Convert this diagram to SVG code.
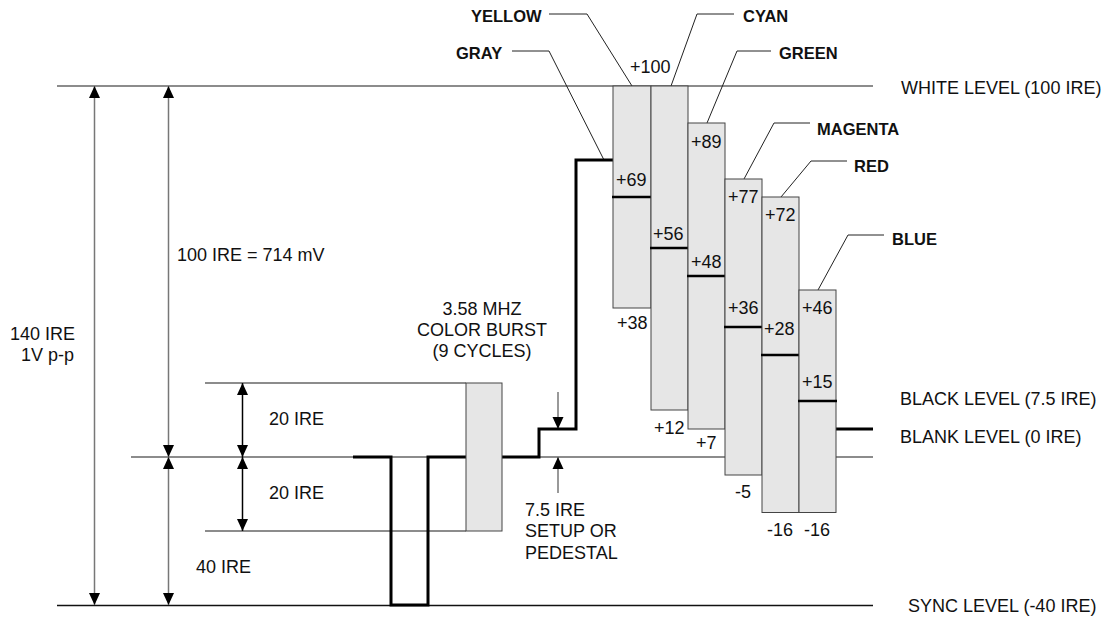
<svg xmlns="http://www.w3.org/2000/svg" width="1114" height="618" viewBox="0 0 1114 618">
<style>
text{font-family:"Liberation Sans",Arial,sans-serif;font-size:18px;fill:#111}
.b{font-weight:bold;font-size:16.5px}
.lvl{stroke:#666;stroke-width:1.3;fill:none}
.sig{stroke:#000;stroke-width:3;fill:none}
.bar{fill:#e6e6e6;stroke:#444;stroke-width:1}
.tick{stroke:#000;stroke-width:2.5}
.ldr{stroke:#222;stroke-width:1;fill:none}
.ga{stroke:#777;stroke-width:1.5;fill:none}
.ka{stroke:#000;stroke-width:1.5;fill:none}
</style>
<defs>
<marker id="ah" viewBox="0 0 12 12" refX="12" refY="6" markerWidth="12" markerHeight="12" markerUnits="userSpaceOnUse" orient="auto-start-reverse">
<path d="M0,0.5 L12,6 L0,11.5 z" fill="#000"/>
</marker>
</defs>

<g id="levels">
<line class="lvl" x1="57" y1="86" x2="873" y2="86"/>
<line class="lvl" x1="131" y1="457" x2="873" y2="457"/>
<line class="lvl" x1="205" y1="383" x2="466" y2="383"/>
<line class="lvl" x1="205" y1="531" x2="466" y2="531"/>
<line x1="57" y1="605.5" x2="873" y2="605.5" stroke="#111" stroke-width="1.5"/>
</g>

<g id="connectors">
<line class="ga" x1="94.5" y1="86" x2="94.5" y2="605" marker-start="url(#ah)" marker-end="url(#ah)"/>
<line class="ga" x1="168.5" y1="86" x2="168.5" y2="457" marker-start="url(#ah)" marker-end="url(#ah)"/>
<line class="ga" x1="168.5" y1="457" x2="168.5" y2="605" marker-start="url(#ah)" marker-end="url(#ah)"/>
<line class="ka" x1="242.5" y1="383" x2="242.5" y2="457" marker-start="url(#ah)" marker-end="url(#ah)"/>
<line class="ka" x1="242.5" y1="457" x2="242.5" y2="531" marker-start="url(#ah)" marker-end="url(#ah)"/>
<line class="ga" x1="558" y1="392" x2="558" y2="429" marker-end="url(#ah)"/>
<line class="ga" x1="558" y1="493" x2="558" y2="457" marker-end="url(#ah)"/>
<path class="ldr" d="M549,14 H587 L632,86"/>
<path class="ldr" d="M512,51 H549 L604,160"/>
<path class="ldr" d="M671,86 L697,14 H734"/>
<path class="ldr" d="M707,123 L737,51 H771"/>
<path class="ldr" d="M744,179 L774,123 H810"/>
<path class="ldr" d="M781,197 L811,161 H847"/>
<path class="ldr" d="M818,290 L848,235 H884"/>
</g>

<g id="signal">
<path class="sig" d="M353,457 H391 V605 H428 V457 H466"/>
<path class="sig" d="M502,457 H539 V429 H576 V160 H613"/>
<path class="sig" d="M836,429 H873"/>
</g>

<g id="burst">
<rect class="bar" x="466" y="383" width="36" height="148" stroke="#555"/>
<text x="482" y="315" text-anchor="middle">3.58 MHZ</text>
<text x="482" y="336" text-anchor="middle">COLOR BURST</text>
<text x="482" y="357" text-anchor="middle">(9 CYCLES)</text>
</g>

<g id="bar-yellow">
<rect class="bar" x="613" y="86" width="38" height="222"/>
<line class="tick" x1="612" y1="197" x2="652" y2="197"/>
<text x="616" y="186">+69</text>
<text x="617" y="329">+38</text>
</g>
<g id="bar-cyan">
<rect class="bar" x="651" y="86" width="37" height="324"/>
<line class="tick" x1="650" y1="248" x2="689" y2="248"/>
<text x="653" y="240">+56</text>
<text x="654" y="434">+12</text>
</g>
<g id="bar-green">
<rect class="bar" x="688" y="123" width="37" height="306"/>
<line class="tick" x1="687" y1="276" x2="726" y2="276"/>
<text x="691" y="148">+89</text>
<text x="691" y="268">+48</text>
<text x="696" y="449">+7</text>
</g>
<g id="bar-magenta">
<rect class="bar" x="725" y="179" width="37" height="296"/>
<line class="tick" x1="724" y1="327" x2="763" y2="327"/>
<text x="728" y="203">+77</text>
<text x="728" y="314">+36</text>
<text x="735" y="498">-5</text>
</g>
<g id="bar-red">
<rect class="bar" x="762" y="197" width="37" height="315.5"/>
<line class="tick" x1="761" y1="355" x2="800" y2="355"/>
<text x="765" y="221">+72</text>
<text x="764" y="335">+28</text>
<text x="767" y="536">-16</text>
</g>
<g id="bar-blue">
<rect class="bar" x="799" y="290" width="37" height="222.5"/>
<line class="tick" x1="798" y1="401" x2="837" y2="401"/>
<text x="802" y="314">+46</text>
<text x="802" y="388">+15</text>
<text x="804" y="536">-16</text>
</g>

<g id="labels">
<text x="630" y="73">+100</text>
<text class="b" x="471" y="22">YELLOW</text>
<text class="b" x="456" y="59">GRAY</text>
<text class="b" x="743" y="22">CYAN</text>
<text class="b" x="779" y="59">GREEN</text>
<text class="b" x="817" y="135">MAGENTA</text>
<text class="b" x="854" y="172">RED</text>
<text class="b" x="892" y="245">BLUE</text>
<text x="901" y="94">WHITE LEVEL (100 IRE)</text>
<text x="900" y="405">BLACK LEVEL (7.5 IRE)</text>
<text x="900" y="443">BLANK LEVEL (0 IRE)</text>
<text x="908" y="612">SYNC LEVEL (-40 IRE)</text>
<text x="75" y="340" text-anchor="end">140 IRE</text>
<text x="74" y="361" text-anchor="end">1V p-p</text>
<text x="177" y="261">100 IRE = 714 mV</text>
<text x="269" y="425">20 IRE</text>
<text x="269" y="499">20 IRE</text>
<text x="196" y="573">40 IRE</text>
<text x="525" y="516">7.5 IRE</text>
<text x="525" y="537">SETUP OR</text>
<text x="525" y="559">PEDESTAL</text>
</g>
</svg>
